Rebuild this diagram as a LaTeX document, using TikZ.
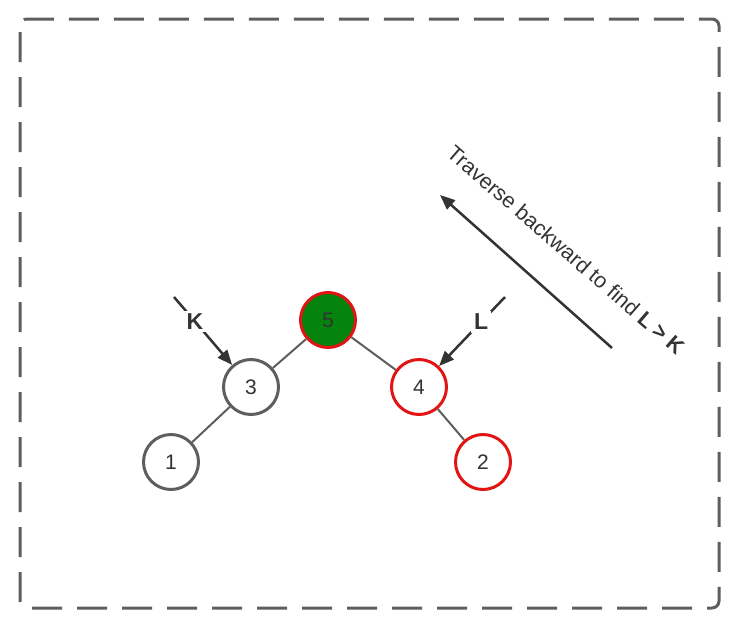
\documentclass[tikz,border=0pt]{standalone}
\usepackage{fontspec}
\setmainfont{Liberation Sans}
\usetikzlibrary{arrows.meta}

\definecolor{edgegray}{HTML}{5E5E5E}
\definecolor{textgray}{HTML}{333333}
\definecolor{hotred}{HTML}{E31414}
\definecolor{rootgreen}{HTML}{04840C}

\tikzset{
  treenode/.style={circle,draw=edgegray,line width=3pt,minimum size=55pt,inner sep=0pt,
    fill=white,text=textgray,font=\fontsize{21}{23}\selectfont},
  rednode/.style={treenode,draw=hotred},
  treeedge/.style={draw=edgegray,line width=2pt},
  pointer/.style={draw=textgray,line width=2.5pt,
    -{Triangle[length=15pt,width=12pt]}},
  ptrlabel/.style={fill=white,inner sep=3pt,text=textgray,
    font=\fontsize{23}{25}\selectfont\bfseries}
}

\begin{document}
\begin{tikzpicture}[x=1pt,y=-1pt]
  \useasboundingbox (0,0) rectangle (738,629);

  % Frame
  \draw[edgegray,line width=3pt,rounded corners=7pt,dash pattern=on 30pt off 15pt,
    dash phase=-6pt] (20,19) rectangle (719,608);

  % Tree
  \node[rednode,fill=rootgreen] (n5) at (328,320) {5};
  \node[treenode] (n3) at (251,387) {3};
  \node[rednode] (n4) at (419,387) {4};
  \node[treenode] (n1) at (171,462) {1};
  \node[rednode] (n2) at (483,462) {2};

  \draw[treeedge] (n5) -- (n3);
  \draw[treeedge] (n5) -- (n4);
  \draw[treeedge] (n3) -- (n1);
  \draw[treeedge] (n4) -- (n2);

  % Pointers
  \coordinate (kstart) at (174,297);
  \coordinate (lstart) at (505,297);
  \draw[pointer] (kstart) -- node[ptrlabel,pos=0.36] (klabel) {K} (n3);
  \draw[pointer] (lstart) -- node[ptrlabel,pos=0.36] (llabel) {L} (n4);

  % Traverse direction
  \coordinate (tstart) at (612,348);
  \coordinate (tend) at (440,195);
  \draw[pointer,line width=2.5pt] (tstart) -- (tend);
  \node[rotate=-41,text=textgray,font=\fontsize{21.5}{23}\selectfont] (tlabel)
    at (566,250) {Traverse backward to find \textbf{L > K}};

\end{tikzpicture}
\end{document}
